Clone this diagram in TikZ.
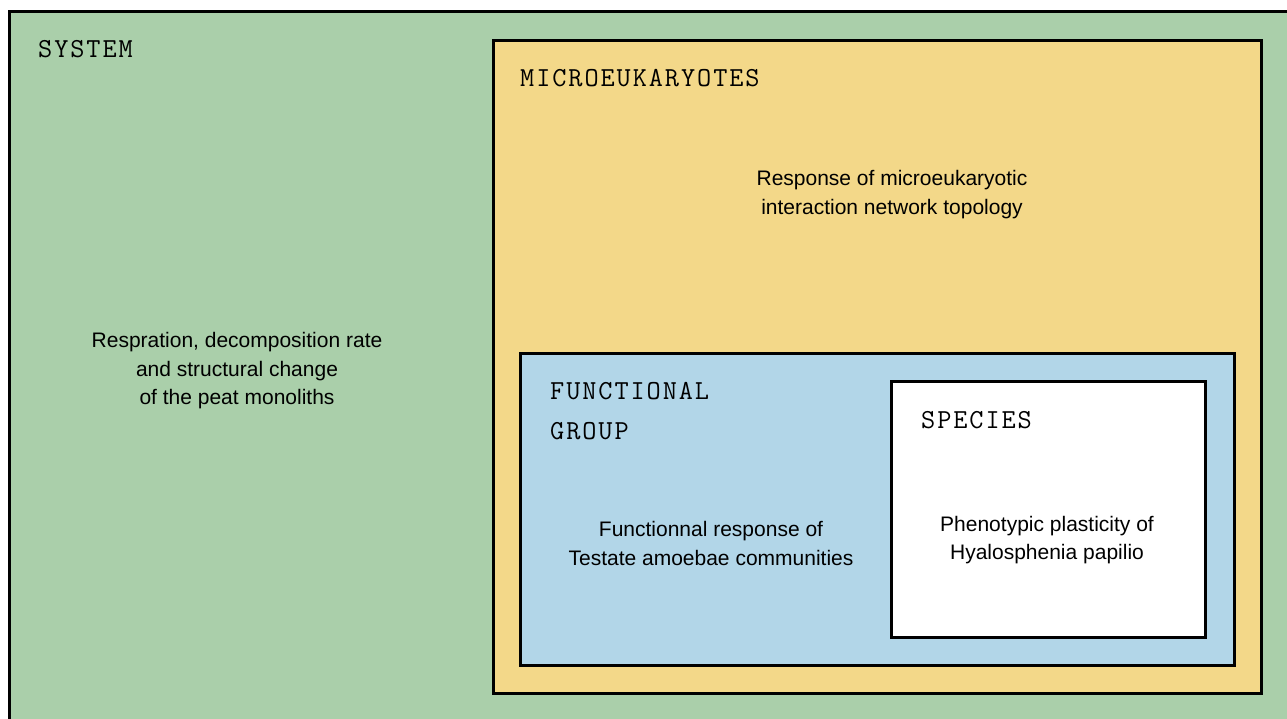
\documentclass[tikz,border=0pt]{standalone}
\usepackage{fontspec}
\setmainfont{Liberation Sans}
\newfontfamily\labmono{Latin Modern Mono}[LetterSpace=7]
\definecolor{sysgreen}{RGB}{170,207,170}
\definecolor{micyellow}{RGB}{243,216,137}
\definecolor{fgblue}{RGB}{178,214,232}
\tikzset{
  levelbox/.style={draw=black, line width=3pt, anchor=north west, inner sep=0pt},
  levellabel/.style={anchor=base west, inner sep=0pt, font=\labmono\fontsize{27.5}{40}\selectfont, align=left},
  desc/.style={align=center, inner sep=0pt, font=\fontsize{21}{28.5}\selectfont}
}
\begin{document}
\begin{tikzpicture}[x=1pt,y=-1pt]
\useasboundingbox (0,0) rectangle (1287,718);
\clip (0,0) rectangle (1287,718);
\fill[white] (0,0) rectangle (1287,718);
\node[levelbox, fill=sysgreen, minimum width=1300pt, minimum height=730pt] (system) at (7.5,10) {};
\node[levelbox, fill=micyellow, minimum width=768pt, minimum height=653pt] (micro) at (491.5,39) {};
\node[levelbox, fill=fgblue, minimum width=714pt, minimum height=312pt] (fg) at (519,352) {};
\node[levelbox, fill=white, minimum width=314pt, minimum height=256pt] (species) at (890,380) {};
\node[levellabel] (lsys) at (38,57) {SYSTEM};
\node[levellabel] (lmic) at (520,86) {MICROEUKARYOTES};
\node[levellabel] (lfg) at (550,439) {FUNCTIONAL\\GROUP};
\node[levellabel] (lsp) at (921,428) {SPECIES};
\node[desc] (dsys) at (237,371) {Respration, decomposition rate\\and structural change\\of the peat monoliths};
\node[desc] (dmic) at (892,194.5) {Response of microeukaryotic\\interaction network topology};
\node[desc] (dfg) at (711,543.5) {Functionnal response of\\Testate amoebae communities};
\node[desc] (dsp) at (1047,540) {Phenotypic plasticity of\\Hyalosphenia papilio};
\end{tikzpicture}
\end{document}
